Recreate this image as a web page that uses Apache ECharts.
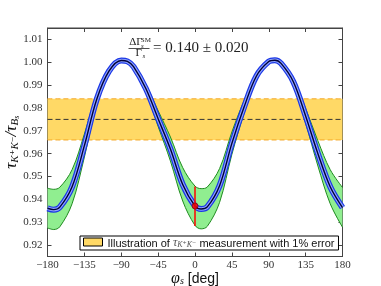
<!DOCTYPE html>
<html><head><meta charset="utf-8">
<script src="https://cdn.jsdelivr.net/npm/echarts@6/dist/echarts.min.js"></script>
<style>html,body{margin:0;padding:0;background:#fff}#c{width:381px;height:286px}</style>
</head><body><div id="c"></div>
<script>
// phi_s in degrees
const phi = [-180, -172.5, -165, -150, -135, -120, -105, -90, -82.5, -75, -60, -45, -30, -15, 0, 7.5, 15, 30, 45, 60, 75, 90, 97.5, 105, 120, 135, 150, 165, 180];
// central prediction tau_KK / tau_Bs
const tauCentral = [0.9361, 0.9355, 0.9366, 0.9455, 0.9635, 0.9837, 0.9961, 1.0008, 1.0004, 0.9981, 0.9885, 0.9753, 0.9620, 0.9465, 0.9371, 0.9358, 0.9367, 0.9460, 0.9645, 0.9805, 0.9940, 1.0003, 1.0009, 0.9995, 0.9915, 0.9765, 0.9600, 0.9455, 0.9364];
// green band edges (DeltaGamma_s uncertainty)
const tauUpper = [0.9449, 0.9444, 0.9453, 0.9530, 0.9686, 0.9860, 0.9968, 1.0009, 1.0005, 0.9985, 0.9902, 0.9788, 0.9673, 0.9539, 0.9458, 0.9447, 0.9454, 0.9535, 0.9695, 0.9833, 0.9949, 1.0004, 1.0010, 0.9997, 0.9927, 0.9798, 0.9656, 0.9530, 0.9452];
const tauLower = [0.9275, 0.9268, 0.9280, 0.9381, 0.9585, 0.9814, 0.9955, 1.0007, 1.0003, 0.9977, 0.9869, 0.9719, 0.9568, 0.9393, 0.9286, 0.9271, 0.9282, 0.9387, 0.9597, 0.9778, 0.9931, 1.0002, 1.0008, 0.9993, 0.9902, 0.9733, 0.9546, 0.9381, 0.9278];
// illustrated measurement
const measCentral = 0.975;
const measLow = 0.966;
const measHigh = 0.984;
// example point with error bar
const pointPhi = 0;
const pointTau = 0.9371;
const pointLow = 0.9284;
const pointHigh = 0.9456;
const xRange = [-180, 180];
const yRange = [0.915, 1.015];
const legendName = 'meas';

const chart = echarts.init(document.getElementById('c'), null, {renderer: 'canvas'});
const pairs = ys => phi.map((p, i) => [p, ys[i]]);
const hline = v => [[xRange[0], v], [xRange[1], v]];
// [value, phi] order so the value (y) dimension is the stacked one
const lowerYX = phi.map((p, i) => [tauLower[i], p]);
const diffYX = phi.map((p, i) => [+(tauUpper[i] - tauLower[i]).toFixed(5), p]);
const serif = '"Liberation Serif", "DejaVu Serif", serif';
const sans = '"Liberation Sans", Arial, sans-serif';
const frame = '#444';
const SM = 0.35;

function curve(data, color, width, z, type) {
  return {type: 'line', data: data, smooth: SM, symbol: 'none', silent: true, z: z,
    lineStyle: {color: color, width: width, type: type || 'solid'}};
}
const line = {show: true, onZero: false, lineStyle: {color: frame}};
const tick = {show: true, inside: true, length: 4, lineStyle: {color: frame}};

const option = {
  animation: false,
  grid: {left: 47.5, right: 38.5, top: 28, bottom: 29.5, containLabel: false, outerBoundsMode: 'none',
    show: true, borderColor: frame, borderWidth: 1, backgroundColor: '#fff'},
  xAxis: [{
    type: 'value', min: xRange[0], max: xRange[1], interval: 45, position: 'bottom',
    axisLine: line, axisTick: tick,
    axisLabel: {fontFamily: serif, fontSize: 11, color: '#333', margin: 3, formatter: v => String(v).replace('-', '\u2212')},
    splitLine: {show: false},
    name: '{p|φ}{s|s}{t| [deg]}', nameLocation: 'middle', nameGap: 14, nameMoveOverlap: false,
    nameTextStyle: {rich: {
      p: {fontFamily: serif, fontStyle: 'italic', fontSize: 16, color: '#111', verticalAlign: 'bottom', lineHeight: 16},
      s: {fontFamily: serif, fontStyle: 'italic', fontSize: 10, color: '#111', verticalAlign: 'bottom', lineHeight: 10},
      t: {fontFamily: sans, fontSize: 14, color: '#111', verticalAlign: 'bottom', lineHeight: 16}
    }}
  }, {
    type: 'value', min: xRange[0], max: xRange[1], interval: 45, position: 'top',
    axisLine: line, axisTick: tick, axisLabel: {show: false}, splitLine: {show: false}
  }],
  yAxis: [{
    type: 'value', min: yRange[0], max: yRange[1], splitNumber: 10, position: 'left',
    axisLine: line, axisTick: tick,
    axisLabel: {fontFamily: serif, fontSize: 11, color: '#333', margin: 5, showMinLabel: false, showMaxLabel: false, formatter: v => v.toFixed(2)},
    splitLine: {show: false},
    name: '{t|τ}{s|K⁺K⁻}{t|/τ}{s|B}{ss|s}', nameLocation: 'middle', nameRotate: 90, nameGap: 27, nameMoveOverlap: false,
    nameTextStyle: {rich: {
      t: {fontFamily: serif, fontStyle: 'italic', fontSize: 17, color: '#111', verticalAlign: 'bottom', lineHeight: 18},
      s: {fontFamily: serif, fontStyle: 'italic', fontSize: 11, color: '#111', verticalAlign: 'bottom', lineHeight: 10},
      ss: {fontFamily: serif, fontStyle: 'italic', fontSize: 8, color: '#111', verticalAlign: 'bottom', lineHeight: 6}
    }}
  }, {
    type: 'value', min: yRange[0], max: yRange[1], splitNumber: 10, position: 'right',
    axisLine: line, axisTick: tick, axisLabel: {show: false}, splitLine: {show: false}
  }],
  legend: {
    data: [{name: legendName, icon: 'rect', itemStyle: {color: '#ffd966', borderColor: '#000', borderWidth: 1}}],
    left: 80, top: 236, itemWidth: 19, itemHeight: 8, itemGap: 6, padding: [1, 4, 1, 3],
    borderColor: '#000', borderWidth: 1, borderRadius: 0, backgroundColor: '#fff',
    selectedMode: false,
    formatter: () => '{t|Illustration of }{m|τ}{s|K⁺K⁻}{t| measurement with 1% error}',
    textStyle: {rich: {
      t: {fontFamily: sans, fontSize: 11, color: '#111', verticalAlign: 'bottom', lineHeight: 14},
      m: {fontFamily: serif, fontStyle: 'italic', fontSize: 12, color: '#555', verticalAlign: 'bottom', lineHeight: 14},
      s: {fontFamily: serif, fontStyle: 'italic', fontSize: 8, color: '#555', verticalAlign: 'bottom', lineHeight: 8}
    }}
  },
  series: [
    {
      name: legendName, type: 'line', data: hline(measCentral),
      symbol: 'none', silent: true, z: 1,
      itemStyle: {color: '#ffd966', borderColor: '#000', borderWidth: 1},
      lineStyle: {color: '#333', width: 1, type: [5, 3]},
      markArea: {silent: true, itemStyle: {color: '#ffd966', opacity: 1}, data: [[{yAxis: measLow}, {yAxis: measHigh}]]}
    },
    curve(hline(measLow), '#f5a623', 1, 1, [5, 3]),
    curve(hline(measHigh), '#f5a623', 1, 1, [5, 3]),
    {type: 'line', data: lowerYX, encode: {x: 1, y: 0}, stack: 'g', stackStrategy: 'all', smooth: SM, symbol: 'none', silent: true, z: 2, lineStyle: {opacity: 0}},
    {type: 'line', data: diffYX, encode: {x: 1, y: 0}, stack: 'g', stackStrategy: 'all', smooth: SM, symbol: 'none', silent: true, z: 2, lineStyle: {opacity: 0},
      areaStyle: {color: '#90ee90', opacity: 1}},
    curve(pairs(tauUpper), '#1e8a1e', 1, 3),
    curve(pairs(tauLower), '#1e8a1e', 1, 3),
    curve(pairs(tauCentral), '#1c38e6', 6, 4),
    curve(pairs(tauCentral), '#8ea3ff', 3.6, 5),
    curve(pairs(tauCentral), '#00003a', 1.4, 6),
    {type: 'line', data: [[pointPhi, pointLow], [pointPhi, pointHigh]], symbol: 'none', silent: true, z: 8,
      lineStyle: {color: '#ff0000', width: 1.5}},
    {type: 'scatter', data: [[pointPhi, pointTau]], symbol: 'circle', symbolSize: 6, silent: true, z: 9,
      itemStyle: {color: '#ee0000', borderColor: '#880000', borderWidth: 0.8}}
  ],
  graphic: [
    {type: 'text', z: 100, x: 129.3, y: 42.5, style: {text: 'ΔΓ', font: '11px ' + serif, fill: '#222', textVerticalAlign: 'middle'}},
    {type: 'text', z: 100, x: 140.8, y: 40, style: {text: 'SM', font: '7px ' + serif, fill: '#222', textVerticalAlign: 'middle'}},
    {type: 'text', z: 100, x: 141, y: 46, style: {text: 's', font: 'italic 7px ' + serif, fill: '#222', textVerticalAlign: 'middle'}},
    {type: 'line', z: 100, shape: {x1: 128.5, y1: 48.5, x2: 149.5, y2: 48.5}, style: {stroke: '#222', lineWidth: 0.8}},
    {type: 'text', z: 100, x: 135.5, y: 53.5, style: {text: 'Γ', font: '11px ' + serif, fill: '#222', textVerticalAlign: 'middle'}},
    {type: 'text', z: 100, x: 142.5, y: 56, style: {text: 's', font: 'italic 7px ' + serif, fill: '#222', textVerticalAlign: 'middle'}},
    {type: 'text', z: 100, x: 153, y: 48.5, style: {text: '= 0.140 ± 0.020', font: '15px ' + serif, fill: '#222', textVerticalAlign: 'middle'}}
  ]
};
chart.setOption(option);
</script>
</body></html>
